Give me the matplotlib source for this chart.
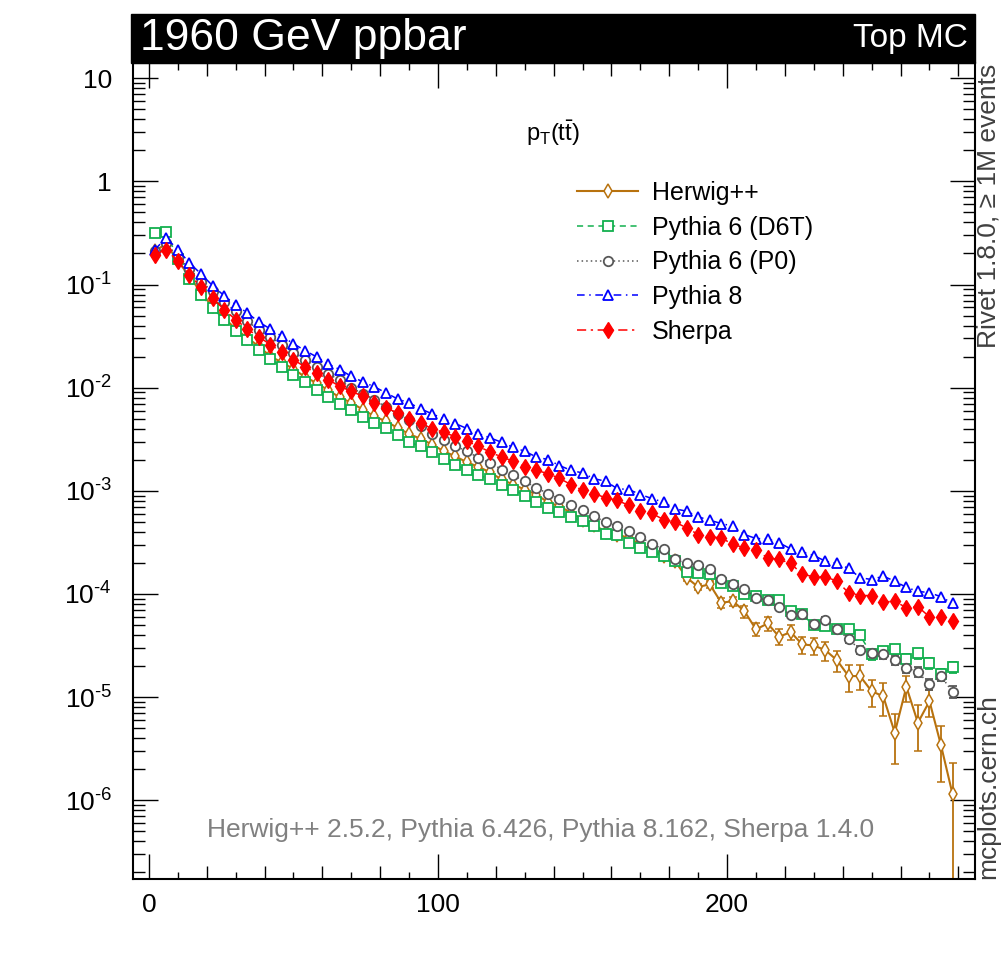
import numpy as np
import matplotlib
matplotlib.use("Agg")
import matplotlib.pyplot as plt
from matplotlib.patches import Rectangle
from matplotlib.ticker import FixedLocator, FuncFormatter, NullFormatter

plt.rcParams["font.family"] = ["Liberation Sans", "DejaVu Sans"]
plt.rcParams["mathtext.fontset"] = "custom"
plt.rcParams["mathtext.rm"] = "Liberation Sans"
plt.rcParams["mathtext.it"] = "Liberation Sans:italic"
plt.rcParams["mathtext.bf"] = "Liberation Sans:bold"

# pT(ttbar) binning: 70 bins of 4 GeV from 0 to 280
pt_edges = np.linspace(0.0, 280.0, 71)
pt_centers = 0.5 * (pt_edges[:-1] + pt_edges[1:])

herwig = [0.210, 0.249, 0.168, 0.122, 0.0829, 0.0615, 0.0475, 0.0371, 0.0304, 0.0252,
          0.0201, 0.0176, 0.0152, 0.0127, 0.0111, 0.00944, 0.00807, 0.00713, 0.00614, 0.00528,
          0.00472, 0.00408, 0.00356, 0.00319, 0.00281, 0.00242, 0.00216, 0.00189, 0.00171, 0.00151,
          0.00129, 0.00115, 0.00103, 0.000921, 0.000776, 0.000710, 0.000612, 0.000527, 0.000471, 0.000397,
          0.000377, 0.000350, 0.000302, 0.000270, 0.000236, 0.000208, 0.000144, 0.000117, 0.000124, 8.22e-5,
          8.52e-5, 6.81e-5, 4.53e-5, 5.18e-5, 3.85e-5, 4.27e-5, 3.24e-5, 3.17e-5, 2.85e-5, 2.28e-5,
          1.60e-5, 1.60e-5, 1.14e-5, 1.02e-5, 4.52e-6, 1.26e-5, 5.65e-6, 9.14e-6, 3.40e-6, 1.14e-6]
herwig_err = [0.0] * 40 + [
          1.6e-5, 1.5e-5, 1.4e-5, 1.3e-5, 1.2e-5, 1.1e-5, 9.0e-6, 8.5e-6, 9.0e-6, 9.7e-6,
          8.8e-6, 9.2e-6, 6.5e-6, 8.3e-6, 6.8e-6, 6.8e-6, 6.1e-6, 6.0e-6, 5.9e-6, 5.1e-6,
          4.7e-6, 4.4e-6, 3.4e-6, 3.6e-6, 2.27e-6, 3.6e-6, 2.65e-6, 2.7e-6, 1.9e-6, 1.14e-6]

py6_d6t = [0.316, 0.321, 0.177, 0.112, 0.0798, 0.0593, 0.0457, 0.0357, 0.0288, 0.0234,
           0.0190, 0.0159, 0.0134, 0.0113, 0.00959, 0.00807, 0.00702, 0.00604, 0.00521, 0.00456,
           0.00408, 0.00344, 0.00296, 0.00271, 0.00237, 0.00204, 0.00180, 0.00158, 0.00141, 0.00131,
           0.00113, 0.00103, 0.000901, 0.000776, 0.000684, 0.000621, 0.000560, 0.000507, 0.000461, 0.000385,
           0.000369, 0.000313, 0.000281, 0.000256, 0.000232, 0.000208, 0.000163, 0.000158, 0.000155, 0.000128,
           0.000119, 9.89e-5, 9.53e-5, 8.65e-5, 8.65e-5, 6.81e-5, 6.33e-5, 4.95e-5, 4.88e-5, 4.53e-5,
           4.53e-5, 3.96e-5, 2.59e-5, 2.79e-5, 2.90e-5, 2.32e-5, 2.65e-5, 2.12e-5, 1.66e-5, 1.95e-5]
py6_d6t_err = [0.0] * 56 + [
           4.0e-6, 4.0e-6, 3.8e-6, 3.6e-6, 3.6e-6, 3.3e-6, 2.8e-6, 2.9e-6, 3.0e-6, 2.7e-6,
           2.9e-6, 2.6e-6, 2.3e-6, 2.5e-6]

py6_p0 = [0.210, 0.253, 0.185, 0.142, 0.107, 0.0859, 0.0673, 0.0550, 0.0440, 0.0366,
          0.0308, 0.0262, 0.0217, 0.0187, 0.0159, 0.0137, 0.0118, 0.00996, 0.00877, 0.00767,
          0.00646, 0.00557, 0.00491, 0.00423, 0.00359, 0.00309, 0.00271, 0.00242, 0.00209, 0.00187,
          0.00161, 0.00141, 0.00124, 0.00107, 0.000942, 0.000836, 0.000736, 0.000649, 0.000568, 0.000497,
          0.000454, 0.000406, 0.000355, 0.000308, 0.000270, 0.000216, 0.000198, 0.000193, 0.000173, 0.000140,
          0.000124, 0.000111, 9.19e-5, 8.71e-5, 7.52e-5, 6.19e-5, 6.33e-5, 5.06e-5, 5.57e-5, 4.53e-5,
          3.68e-5, 2.85e-5, 2.69e-5, 2.59e-5, 2.27e-5, 1.93e-5, 1.75e-5, 1.33e-5, 1.60e-5, 1.12e-5]
py6_p0_err = [0.0] * 56 + [
          3.8e-6, 3.5e-6, 3.7e-6, 3.3e-6, 3.0e-6, 2.6e-6, 2.5e-6, 2.4e-6, 2.2e-6, 2.0e-6,
          1.9e-6, 1.6e-6, 1.8e-6, 1.5e-6]

py8 = [0.218, 0.283, 0.218, 0.162, 0.127, 0.0976, 0.0781, 0.0638, 0.0531, 0.0434,
       0.0371, 0.0315, 0.0267, 0.0229, 0.0199, 0.0170, 0.0150, 0.0129, 0.0114, 0.0102,
       0.00891, 0.00778, 0.00713, 0.00623, 0.00557, 0.00499, 0.00449, 0.00402, 0.00359, 0.00326,
       0.00296, 0.00264, 0.00242, 0.00213, 0.00201, 0.00176, 0.00158, 0.00149, 0.00131, 0.00124,
       0.00105, 0.00103, 0.000921, 0.000842, 0.000776, 0.000670, 0.000634, 0.000560, 0.000519, 0.000482,
       0.000454, 0.000377, 0.000345, 0.000343, 0.000313, 0.000274, 0.000256, 0.000236, 0.000208, 0.000198,
       0.000177, 0.000144, 0.000138, 0.000149, 0.000133, 0.000116, 0.000106, 0.000103, 9.40e-5, 8.09e-5]

sherpa = [0.195, 0.218, 0.168, 0.125, 0.0948, 0.0742, 0.0571, 0.0457, 0.0371, 0.0311,
          0.0262, 0.0220, 0.0187, 0.0159, 0.0139, 0.0120, 0.0103, 0.00923, 0.00826, 0.00713,
          0.00637, 0.00570, 0.00499, 0.00456, 0.00399, 0.00370, 0.00334, 0.00303, 0.00271, 0.00237,
          0.00213, 0.00194, 0.00171, 0.00158, 0.00147, 0.00132, 0.00115, 0.00101, 0.000942, 0.000855,
          0.000811, 0.000721, 0.000634, 0.000603, 0.000527, 0.000497, 0.000438, 0.000377, 0.000358, 0.000350,
          0.000302, 0.000281, 0.000266, 0.000224, 0.000216, 0.000198, 0.000155, 0.000147, 0.000147, 0.000133,
          0.000103, 9.66e-5, 9.66e-5, 8.34e-5, 8.52e-5, 7.35e-5, 7.52e-5, 6.01e-5, 6.01e-5, 5.45e-5]

series = [
    ("Herwig++", herwig, herwig_err, dict(color="#b8720e", ls="-", lw=1.5, marker="d", ms=7.5,
                                           mfc="white", mew=1.1)),
    ("Pythia 6 (D6T)", py6_d6t, py6_d6t_err, dict(color="#12b04e", ls=(0, (4.0, 3.0)), lw=1.1,
                                                   marker="s", ms=6.8, mfc="white", mew=1.3)),
    ("Pythia 6 (P0)", py6_p0, py6_p0_err, dict(color="#585858", ls=(0, (1.0, 2.0)), lw=1.1,
                                                marker="o", ms=6.8, mfc="white", mew=1.3)),
    ("Pythia 8", py8, None, dict(color="#0000ff", ls=(0, (5.0, 3.0, 1.0, 3.0)), lw=1.1,
                                 marker="^", ms=7.8, mfc="white", mew=1.3)),
    ("Sherpa", sherpa, None, dict(color="#ff0000", ls=(0, (6.0, 3.0, 1.5, 3.0)), lw=1.1,
                                  marker="d", ms=8.2, mfc="#ff0000", mew=1.0)),
]

y_decades = [1e-6, 1e-5, 1e-4, 1e-3, 1e-2, 1e-1, 1.0, 10.0]

fig = plt.figure(figsize=(10.01, 9.64), dpi=100)
ax = fig.add_axes([0.1326, 0.0882, 0.8410, 0.8462])

handles = []
labels = []
for label, vals, errs, style in series:
    yerr = None if errs is None else np.asarray(errs)
    cont = ax.errorbar(pt_centers, vals, yerr=yerr, capsize=3, elinewidth=1.3, capthick=1.3,
                       mec=style["color"], **style)
    handles.append(cont[0])
    labels.append(label)

ax.set_yscale("log", nonpositive="clip")
ax.set_xlim(-5.6, 285.6)
ax.set_ylim(10 ** -6.763, 10 ** 1.1455)

# axis frame and ticks
for sp in ax.spines.values():
    sp.set_linewidth(1.5)

ax.xaxis.set_major_locator(FixedLocator([0, 100, 200]))
ax.xaxis.set_minor_locator(FixedLocator([v for v in range(0, 290, 10) if v % 20 != 0]))
y_minor = [m * d for d in [1e-7] + y_decades for m in range(2, 10)]
y_minor = [v for v in y_minor if 10 ** -6.763 <= v <= 10 ** 1.1455]
ax.yaxis.set_major_locator(FixedLocator(y_decades))
ax.yaxis.set_minor_locator(FixedLocator(y_minor))
ax.yaxis.set_minor_formatter(NullFormatter())


def decade_label(v, pos):
    e = int(round(np.log10(v)))
    if e == 0:
        return "1"
    if e == 1:
        return "10"
    sign = r"\text{-}" if e < 0 else ""
    return r"$\mathregular{10^{%s%d}}$" % (sign, abs(e))


ax.yaxis.set_major_formatter(FuncFormatter(decade_label))
ax.tick_params(which="both", direction="in", top=True, right=True, width=1.0,
               labelsize=19, colors="black")
ax.tick_params(which="major", length=18)
ax.tick_params(axis="y", which="minor", length=8.6)
ax.tick_params(axis="x", which="minor", length=5)
ax.tick_params(axis="y", which="major", pad=15)
ax.tick_params(axis="x", which="major", pad=10)

# intermediate x ticks every 20 units
mid_ticks = [v for v in range(20, 290, 20) if v % 100 != 0]
for loc in ("bottom", "top"):
    sec = ax.secondary_xaxis(loc)
    sec.set_xticks(mid_ticks)
    sec.tick_params(direction="in", length=9.4, width=1.0, labelbottom=False, labeltop=False)
    for sp in sec.spines.values():
        sp.set_visible(False)

leg = ax.legend(handles, labels, loc="upper left", bbox_to_anchor=(0.5764, 0.8125),
                bbox_transform=fig.transFigure, frameon=False, fontsize=18,
                handlelength=2.45, handletextpad=0.55, labelspacing=0.43,
                borderpad=0.0, borderaxespad=0.0)

# header bar
fig.patches.append(Rectangle((0.1309, 0.9343), 0.8431, 0.0512, transform=fig.transFigure,
                             facecolor="black", edgecolor="black", zorder=0))
fig.text(0.1399, 0.9597, "1960 GeV ppbar", color="white", fontsize=32, ha="left", va="center")
fig.text(0.967, 0.9597, "Top MC", color="white", fontsize=24, ha="right", va="center")

fig.text(0.5525, 0.862, r"$\mathregular{p_{T}(t\bar{t})}$", fontsize=17, ha="center", va="center")
fig.text(0.5405, 0.1385, "Herwig++ 2.5.2, Pythia 6.426, Pythia 8.162, Sherpa 1.4.0",
         color="#808080", fontsize=19, ha="center", va="center")

fig.text(0.9875, 0.9343, "Rivet 1.8.0, \u2265 1M events", color="#404040", fontsize=19,
         rotation=90, ha="center", va="top")
fig.text(0.9875, 0.0882, "mcplots.cern.ch", color="#404040", fontsize=19,
         rotation=90, ha="center", va="bottom")

fig.savefig("out.png", dpi=100, facecolor="white")
